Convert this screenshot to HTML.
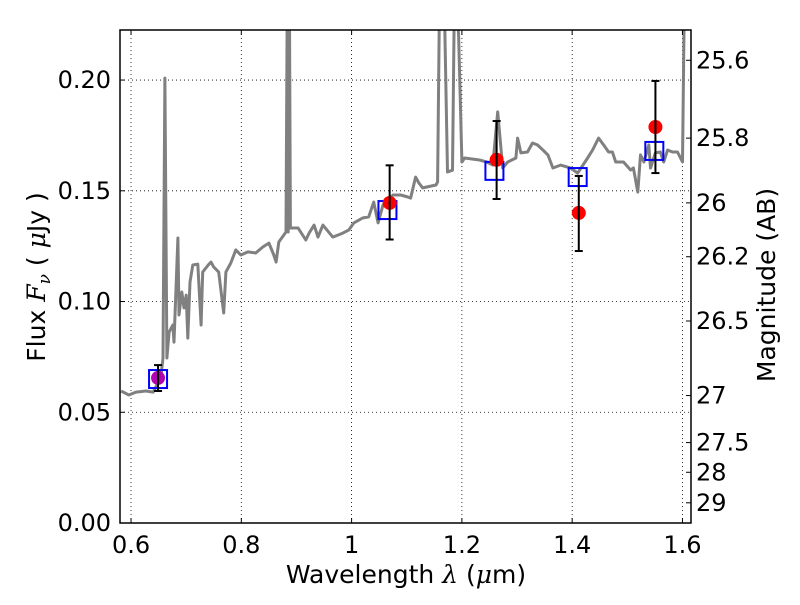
<!DOCTYPE html>
<html><head><meta charset="utf-8"><style>
html,body{margin:0;padding:0;background:#fff;}
svg text{font-family:"DejaVu Sans","Liberation Sans",sans-serif;}
</style></head><body>
<svg id="chart" width="800" height="600" viewBox="0 0 800 600" xmlns="http://www.w3.org/2000/svg"></svg>
<script>
const specLam=[0.582,0.596,0.609,0.627,0.640,0.654,0.658,0.6615,0.665,0.669,0.676,0.678,0.685,0.687,0.692,0.696,0.700,0.703,0.707,0.712,0.721,0.727,0.730,0.740,0.745,0.750,0.759,0.768,0.772,0.781,0.790,0.799,0.812,0.826,0.839,0.850,0.859,0.863,0.868,0.881,0.8835,0.885,0.887,0.889,0.8935,0.903,0.917,0.923,0.932,0.939,0.948,0.966,0.984,0.995,1.004,1.020,1.031,1.040,1.048,1.057,1.075,1.089,1.102,1.107,1.116,1.122,1.129,1.153,1.156,1.160,1.167,1.174,1.183,1.187,1.194,1.200,1.205,1.232,1.245,1.256,1.265,1.274,1.283,1.298,1.301,1.307,1.319,1.328,1.337,1.347,1.356,1.365,1.379,1.397,1.410,1.428,1.437,1.448,1.457,1.466,1.473,1.479,1.493,1.506,1.511,1.519,1.524,1.530,1.539,1.542,1.551,1.560,1.566,1.573,1.582,1.591,1.600,1.604,1.606,1.616];
const specFlux=[0.0596,0.0578,0.0591,0.0596,0.0591,0.0655,0.0745,0.2009,0.0745,0.0862,0.0894,0.0817,0.1287,0.0939,0.1043,0.0971,0.1029,0.0835,0.1088,0.1165,0.1169,0.0894,0.1133,0.1165,0.1178,0.1156,0.1133,0.0948,0.1133,0.1174,0.1233,0.121,0.1224,0.1219,0.1246,0.1264,0.121,0.1178,0.1269,0.1314,0.25,0.1314,0.25,0.1332,0.1332,0.1332,0.1278,0.1309,0.1345,0.1291,0.1345,0.1291,0.1309,0.1323,0.1355,0.1377,0.1382,0.1449,0.1355,0.1436,0.1481,0.1481,0.1472,0.1467,0.1562,0.1535,0.1513,0.1526,0.154,0.25,0.25,0.1585,0.1593,0.25,0.2203,0.163,0.1648,0.1639,0.163,0.1616,0.1856,0.1603,0.163,0.1648,0.1738,0.1671,0.1675,0.1716,0.1707,0.1684,0.1662,0.1603,0.1616,0.1603,0.158,0.1648,0.1684,0.1738,0.1707,0.1675,0.1675,0.163,0.163,0.1594,0.1603,0.1494,0.1662,0.163,0.1707,0.1603,0.1671,0.1675,0.163,0.1684,0.1675,0.1675,0.163,0.25,0.25];
const obsLam=[0.649,1.069,1.263,1.412,1.551];
const obsFlux=[0.0655,0.1445,0.164,0.140,0.1788];
const obsErrLo=[0.0059,0.0165,0.0177,0.0172,0.0208];
const obsErrHi=[0.0058,0.0170,0.0175,0.0167,0.0208];
const obsColor=["#b000b0","#ff0000","#ff0000","#ff0000","#ff0000"];
const modLam=[0.649,1.065,1.259,1.410,1.549];
const modFlux=[0.065,0.1413,0.159,0.1562,0.168];
const xTicks=[0.6,0.8,1.0,1.2,1.4,1.6];
const xTickLabels=["0.6","0.8","1","1.2","1.4","1.6"];
const yTicks=[0,0.05,0.10,0.15,0.20];
const yTickLabels=["0.00","0.05","0.10","0.15","0.20"];
const magTicks=[25.6,25.8,26,26.2,26.5,27,27.5,28,29];
const magTickLabels=["25.6","25.8","26","26.2","26.5","27","27.5","28","29"];

const L=120,R=691,T=30,B=523;
const XMIN=0.58,XMAX=1.6155,YMIN=0,YMAX=0.2226;
const sx=v=>L+(v-XMIN)/(XMAX-XMIN)*(R-L);
const sy=v=>B-(v-YMIN)/(YMAX-YMIN)*(B-T);
const magToFlux=m=>Math.pow(10,(23.9-m)/2.5);
const svg=document.getElementById('chart');
const NS='http://www.w3.org/2000/svg';
function mk(tag,attrs,parent){const e=document.createElementNS(NS,tag);for(const k in attrs)e.setAttribute(k,attrs[k]);(parent||svg).appendChild(e);return e;}

const defs=mk('defs',{});
const cp=mk('clipPath',{id:'plotclip'},defs);
mk('rect',{x:L,y:T,width:R-L,height:B-T},cp);

const grid=mk('g',{});


xTicks.forEach(v=>{mk('line',{x1:sx(v),x2:sx(v),y1:T,y2:B,stroke:'#000','stroke-width':0.8,'stroke-dasharray':'1,3'},grid);});
yTicks.forEach(v=>{mk('line',{x1:L,x2:R,y1:sy(v),y2:sy(v),stroke:'#000','stroke-width':0.8,'stroke-dasharray':'1,3'},grid);});

const plot=mk('g',{'clip-path':'url(#plotclip)'});
let d='';
specLam.forEach((l,i)=>{d+=(i?'L':'M')+sx(l).toFixed(1)+','+sy(specFlux[i]).toFixed(1);});
const sp=mk('path',{d:d,fill:'none',stroke:'#808080','stroke-width':3,'stroke-linejoin':'round'},plot);



modLam.forEach((l,i)=>{
  const r=mk('rect',{x:sx(l)-9,y:sy(modFlux[i])-9,width:18,height:18,fill:'none',stroke:'#0000ff','stroke-width':2},plot);
  
  
});
obsLam.forEach((l,i)=>{
  const c=mk('circle',{cx:sx(l),cy:sy(obsFlux[i]),r:7,fill:obsColor[i]},plot);
  
  
  const x=sx(l),y1=sy(obsFlux[i]+obsErrHi[i]),y2=sy(obsFlux[i]-obsErrLo[i]);
  const g=mk('g',{stroke:'#000','stroke-width':2},plot);
  
  
  mk('line',{x1:x,x2:x,y1:y1,y2:y2},g);
  mk('line',{x1:x-4,x2:x+4,y1:y1,y2:y1},g);
  mk('line',{x1:x-4,x2:x+4,y1:y2,y2:y2},g);
});

const fr=mk('rect',{x:L,y:T,width:R-L,height:B-T,fill:'none',stroke:'#000','stroke-width':1.5});



xTicks.forEach((v,i)=>{
  const x=sx(v);
  mk('line',{x1:x,x2:x,y1:B,y2:B-5,stroke:'#000'});
  mk('line',{x1:x,x2:x,y1:T,y2:T+5,stroke:'#000'});
  const t=mk('text',{x:x,y:B+30,'text-anchor':'middle','font-size':24});
  t.textContent=xTickLabels[i];
  
  
});
yTicks.forEach((v,i)=>{
  const y=sy(v);
  mk('line',{x1:L,x2:L+5,y1:y,y2:y,stroke:'#000'});
  const t=mk('text',{x:L-9,y:y+8,'text-anchor':'end','font-size':24});
  t.textContent=yTickLabels[i];
  
  
});
magTicks.forEach((m,i)=>{
  const y=sy(magToFlux(m));
  mk('line',{x1:R,x2:R-5,y1:y,y2:y,stroke:'#000'});
  const t=mk('text',{x:R+5,y:y+8,'text-anchor':'start','font-size':24});
  t.textContent=magTickLabels[i];
  
  
});
</script>
<svg style="position:absolute;left:0;top:0" width="800" height="600">
<text x="406" y="583" text-anchor="middle" font-size="25" font-family="DejaVu Sans, sans-serif">Wavelength  <tspan font-style="italic" font-family="DejaVu Serif, serif">λ</tspan> (<tspan font-style="italic" font-family="DejaVu Serif, serif">μ</tspan>m)</text>
<text transform="translate(45,277) rotate(-90)" text-anchor="middle" font-size="25" font-family="DejaVu Sans, sans-serif">Flux  <tspan font-style="italic" font-family="DejaVu Serif, serif">F</tspan><tspan font-style="italic" font-size="17" dy="5" font-family="DejaVu Serif, serif">ν</tspan><tspan dy="-5">  (  </tspan><tspan font-style="italic" font-family="DejaVu Serif, serif">μ</tspan>Jy )</text>
<text transform="translate(775,285) rotate(-90)" text-anchor="middle" font-size="25" font-family="DejaVu Sans, sans-serif">Magnitude (AB)</text>
</svg>
</body></html>
